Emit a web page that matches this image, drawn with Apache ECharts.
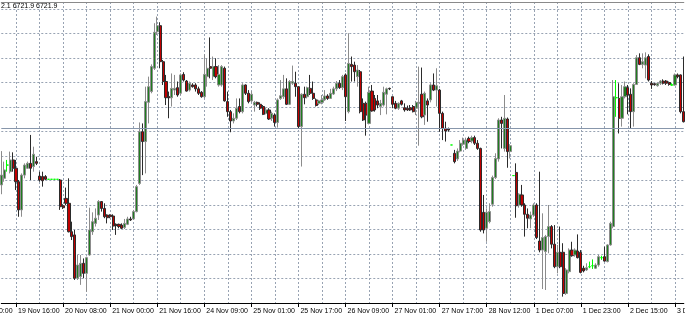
<!DOCTYPE html>
<html><head><meta charset="utf-8">
<script src="https://cdn.jsdelivr.net/npm/echarts@6/dist/echarts.min.js"></script>
<style>html,body{margin:0;padding:0;background:#fff}#c{width:685px;height:320px}</style>
</head><body><div id="c"></div>
<script>
const tickLabels = ["19 Nov 16:00","20 Nov 08:00","21 Nov 00:00","21 Nov 16:00","24 Nov 09:00","25 Nov 01:00","25 Nov 17:00","26 Nov 09:00","27 Nov 01:00","27 Nov 17:00","28 Nov 12:00","1 Dec 07:00","1 Dec 23:00","2 Dec 15:00","3 Dec 07:00"];
const prevLabel = "19 Nov 00:00";
const headerText = "2.1 6721.9 6721.9";
const firstLabelBar = 5, labelEvery = 16, gridEvery = 8;
const bidLine = 6701.2;

const opens = [6678.2,6680.9,6686.3,6683.6,6688.4,6685.0,6679.5,6668.0,6682.2,6685.0,6687.0,6685.7,6687.7,6681.8,6681.6,6681.6,6680.5,6680.5,6680.5,6680.5,
6680.2,6669.7,6672.7,6670.7,6659.1,6657.8,6640.1,6640.8,6646.2,6642.1,6649.6,6659.1,6662.5,6665.9,6671.4,6668.6,6665.9,6665.9,6665.5,6662.1,
6662.1,6661.8,6660.8,6662.1,6664.3,6664.3,6667.3,6678.8,6699.9,6695.9,6711.9,6716.3,6725.8,6740.7,6743.2,6728.5,6720.4,6714.2,6713.8,6716.9,
6717.9,6715.6,6723.3,6720.6,6716.9,6719.0,6719.0,6717.4,6716.0,6714.2,6722.4,6726.5,6722.4,6726.5,6719.0,6719.0,6725.8,6712.2,6708.1,6704.3,
6705.4,6710.2,6708.1,6719.0,6715.6,6712.5,6710.8,6711.9,6711.1,6710.2,6707.4,6708.8,6705.4,6706.7,6703.7,6713.5,6714.2,6717.4,6711.1,6719.7,
6719.7,6718.3,6702.0,6715.2,6714.2,6717.6,6715.6,6712.9,6711.5,6711.9,6712.9,6714.5,6713.5,6715.3,6717.4,6719.7,6717.9,6723.1,6708.1,6727.4,
6727.1,6722.4,6724.4,6711.5,6711.5,6703.3,6716.5,6713.5,6712.5,6710.2,6710.8,6715.2,6717.6,6714.2,6711.5,6709.5,6712.5,6709.7,6709.5,6709.7,
6710.2,6709.5,6711.5,6715.2,6706.7,6712.5,6712.9,6719.0,6716.9,6716.9,6707.4,6701.3,6701.0,6694.5,6691.1,6688.8,6692.0,6694.8,6693.1,6697.2,
6696.1,6697.5,6695.2,6693.1,6667.0,6660.5,6663.2,6670.3,6681.2,6688.8,6704.7,6693.1,6705.1,6691.8,6682.0,6683.3,6670.0,6674.1,6670.0,6666.2,
6664.3,6665.9,6670.0,6655.3,6651.6,6651.0,6657.1,6661.2,6654.0,6644.8,6650.7,6650.7,6633.9,6642.8,6651.6,6649.6,6651.2,6650.7,6644.2,6643.5,
6644.8,6645.2,6644.2,6645.5,6648.5,6648.9,6646.9,6653.7,6661.2,6713.8,6713.5,6705.4,6714.2,6717.9,6715.2,6708.1,6719.2,6730.1,6727.4,6727.1,
6730.6,6719.7,6719.5,6718.7,6719.7,6720.6,6720.6,6720.0,6719.0,6719.0,6723.1,6723.1,6708.1];

const closes = [6682.2,6684.3,6686.3,6688.4,6685.0,6679.5,6668.0,6682.2,6686.3,6687.0,6685.0,6690.7,6687.0,6680.2,6679.9,6680.5,6680.5,6680.5,6680.5,6680.5,
6669.3,6668.9,6670.7,6659.1,6657.1,6640.1,6645.5,6646.2,6642.1,6648.5,6659.8,6663.2,6664.6,6671.4,6668.6,6665.2,6664.8,6665.2,6661.4,6661.6,
6661.2,6660.5,6662.5,6664.3,6663.9,6667.3,6677.5,6699.9,6695.9,6712.2,6718.3,6726.5,6740.5,6743.2,6728.5,6720.4,6713.8,6713.8,6717.6,6717.6,
6714.9,6723.1,6721.0,6716.5,6719.7,6718.3,6717.4,6715.6,6714.2,6723.3,6725.8,6725.8,6726.5,6722.4,6723.3,6726.5,6712.5,6708.1,6704.3,6705.4,
6709.5,6708.1,6719.0,6715.6,6712.2,6715.2,6711.9,6711.1,6709.5,6707.0,6708.8,6705.1,6707.4,6703.7,6712.9,6714.6,6717.4,6711.1,6720.4,6720.4,
6718.3,6702.0,6715.2,6713.8,6717.9,6715.6,6713.5,6710.6,6712.5,6712.9,6714.5,6713.5,6715.6,6717.4,6719.7,6717.9,6722.4,6714.2,6727.8,6726.5,
6724.4,6725.1,6708.1,6704.7,6706.7,6716.0,6708.4,6708.8,6710.8,6711.5,6716.0,6717.4,6717.4,6711.1,6709.5,6711.5,6711.1,6708.8,6708.8,6708.8,
6708.1,6711.9,6711.9,6706.0,6715.6,6710.8,6719.0,6716.9,6718.7,6707.4,6701.3,6700.2,6700.6,6694.5,6687.7,6692.0,6695.2,6696.5,6696.5,6695.9,
6697.5,6695.2,6693.1,6659.8,6659.8,6667.0,6667.3,6681.2,6689.0,6704.7,6703.3,6705.4,6691.8,6694.2,6682.0,6669.7,6674.4,6670.0,6666.2,6664.6,
6665.9,6670.0,6656.7,6651.6,6656.7,6657.1,6661.2,6654.0,6644.8,6650.7,6644.8,6633.9,6643.5,6651.6,6649.3,6651.6,6648.5,6642.5,6643.1,6644.4,
6644.8,6645.2,6645.5,6648.9,6648.5,6647.1,6653.7,6662.5,6714.2,6713.8,6705.4,6714.2,6718.3,6714.9,6708.1,6719.2,6730.1,6727.4,6728.5,6730.1,
6721.0,6719.0,6719.1,6719.7,6720.6,6719.7,6719.7,6719.2,6719.0,6723.1,6722.4,6708.1,6704.0];

const lows = [6674.4,6679.5,6683.6,6682.9,6683.6,6676.1,6665.2,6665.2,6680.9,6684.7,6680.2,6683.6,6686.3,6679.5,6677.5,6680.2,6680.5,6680.5,6680.5,6680.5,
6668.0,6668.4,6670.0,6658.8,6655.7,6639.4,6639.4,6637.4,6640.1,6634.6,6649.3,6657.8,6661.2,6663.9,6667.3,6664.6,6662.5,6664.6,6659.8,6657.8,
6660.5,6660.2,6660.2,6661.8,6663.5,6663.9,6667.0,6678.2,6682.2,6682.9,6703.3,6715.6,6725.1,6739.4,6725.8,6719.0,6710.8,6705.4,6710.2,6714.9,
6714.2,6714.9,6720.4,6716.3,6716.3,6717.9,6716.3,6714.9,6713.8,6713.5,6718.3,6721.7,6721.0,6721.7,6718.3,6718.3,6712.2,6706.0,6699.7,6703.3,
6704.7,6707.4,6707.4,6714.9,6711.5,6711.9,6708.1,6710.2,6708.8,6706.7,6707.0,6704.7,6704.3,6702.0,6701.6,6712.9,6713.3,6710.8,6710.8,6719.0,
6714.2,6701.3,6685.7,6711.1,6713.5,6714.9,6712.9,6710.2,6710.8,6711.1,6712.5,6712.9,6713.3,6714.9,6716.5,6717.4,6716.9,6704.3,6707.4,6720.4,
6720.4,6718.3,6707.4,6704.3,6698.3,6702.9,6708.1,6708.1,6709.5,6706.7,6710.2,6707.0,6716.9,6709.5,6709.1,6708.8,6710.6,6708.1,6708.4,6708.4,
6707.8,6706.7,6694.2,6705.4,6702.7,6704.0,6711.9,6716.5,6710.2,6699.9,6696.5,6695.9,6699.9,6694.5,6687.0,6688.0,6691.5,6694.2,6692.5,6695.2,
6695.2,6694.5,6692.5,6659.1,6658.4,6655.0,6662.5,6669.3,6680.6,6687.7,6693.1,6691.8,6685.2,6689.0,6682.0,6664.8,6668.9,6669.3,6657.1,6660.5,
6660.5,6665.2,6656.1,6650.7,6635.7,6635.3,6650.3,6652.3,6644.2,6642.1,6644.2,6632.6,6633.3,6642.1,6648.9,6648.9,6648.2,6642.1,6642.5,6643.1,
6644.2,6643.9,6643.9,6644.8,6647.6,6646.9,6646.6,6653.4,6660.5,6706.0,6699.2,6702.0,6713.5,6707.0,6701.3,6702.0,6719.0,6727.1,6725.8,6721.7,
6720.4,6717.4,6718.7,6718.3,6719.0,6719.2,6719.0,6718.7,6718.7,6718.7,6721.7,6707.4,6703.7];

const highs = [6692.0,6687.7,6688.4,6691.8,6691.5,6688.4,6680.2,6682.9,6687.0,6687.7,6698.6,6693.8,6689.7,6683.6,6683.6,6682.2,6680.5,6680.5,6680.5,6680.5,
6680.6,6670.3,6677.1,6680.9,6663.2,6659.8,6649.6,6649.6,6648.2,6648.9,6668.9,6667.0,6668.6,6672.0,6671.6,6670.7,6666.2,6666.2,6666.2,6662.5,
6662.4,6662.5,6664.3,6665.2,6665.2,6668.0,6678.2,6703.7,6703.3,6718.3,6722.4,6727.4,6744.2,6746.9,6744.6,6729.2,6723.1,6716.3,6723.7,6723.1,
6720.4,6723.7,6724.2,6721.0,6720.4,6719.7,6719.7,6718.3,6716.5,6731.5,6729.9,6738.4,6730.6,6729.9,6727.1,6727.1,6726.5,6716.3,6708.8,6707.4,
6713.5,6713.5,6719.7,6719.2,6716.9,6716.5,6712.5,6712.2,6711.9,6710.8,6709.7,6709.5,6708.1,6707.4,6713.5,6721.0,6723.1,6721.7,6721.0,6726.9,
6724.4,6718.3,6715.6,6718.3,6718.3,6723.1,6720.4,6713.5,6712.9,6714.9,6716.9,6715.2,6717.4,6718.3,6720.6,6721.0,6723.1,6723.7,6740.1,6730.6,
6728.5,6727.1,6725.1,6713.5,6712.2,6718.3,6719.0,6714.9,6714.9,6712.9,6718.3,6717.9,6717.9,6714.2,6712.5,6711.9,6712.9,6711.5,6710.6,6710.8,
6710.8,6712.5,6726.5,6726.1,6716.3,6713.5,6719.7,6723.7,6725.8,6717.4,6708.1,6704.0,6701.6,6694.5,6692.5,6693.1,6696.5,6697.5,6697.5,6697.9,
6698.3,6698.3,6696.5,6693.4,6674.1,6668.6,6670.7,6682.0,6691.1,6705.4,6706.0,6714.9,6705.7,6694.8,6682.0,6687.0,6674.8,6678.2,6670.7,6668.6,
6667.3,6670.7,6670.7,6683.6,6666.6,6657.8,6670.0,6661.8,6661.8,6653.7,6661.2,6654.4,6644.2,6652.3,6655.0,6652.3,6658.0,6651.6,6645.2,6646.2,
6646.9,6647.8,6646.2,6649.6,6649.3,6653.0,6654.0,6663.2,6721.0,6721.0,6719.7,6719.0,6720.4,6719.0,6717.6,6719.7,6731.2,6731.9,6731.9,6732.3,
6731.5,6720.6,6719.7,6720.0,6721.0,6721.3,6721.0,6720.4,6719.7,6723.7,6723.7,6723.3,6730.6];

const cats = opens.map((_, i) => String(i));
const candles = opens.map((o, i) => [o, closes[i], lows[i], highs[i]]);
const isLabel = i => (i - firstLabelBar) % labelEvery === 0;
const isGrid = i => (i - firstLabelBar) % gridEvery === 0;

const chart = echarts.init(document.getElementById('c'), null, {renderer: 'canvas'});
const gridColor = '#98a3b3';
chart.setOption({
  animation: false,
  grid: {left: 1.29, right: 1.2, top: 2, bottom: 17, outerBoundsMode: 'none', containLabel: false},
  xAxis: [{
    type: 'category', data: cats, boundaryGap: false,
    axisLine: {lineStyle: {color: '#000', width: 1}},
    axisTick: {show: true, length: 4, interval: isLabel, lineStyle: {color: '#000'}},
    axisLabel: {interval: isLabel, formatter: (v, i) => tickLabels[(i - firstLabelBar) / labelEvery] || '',
      align: 'left', padding: [0, 0, 0, 2], margin: 5, fontSize: 7, fontFamily: 'Liberation Sans', color: '#000'},
    splitLine: {show: true, interval: isGrid, lineStyle: {color: gridColor, type: [2, 2], width: 1}}
  }, {
    type: 'category', data: cats, boundaryGap: false, position: 'top',
    axisLine: {lineStyle: {color: '#8a8a8a', width: 1}}, axisTick: {show: false}, axisLabel: {show: false}, splitLine: {show: false}
  }],
  yAxis: {
    type: 'value', min: 6630, max: 6752.86, interval: 10,
    axisLine: {show: false}, axisTick: {show: false}, axisLabel: {show: false},
    splitLine: {lineStyle: {color: gridColor, type: [2, 2], width: 1}}
  },
  series: [{
    type: 'candlestick', data: candles, barWidth: 2.6,
    itemStyle: {color: '#1e7d1e', color0: '#c00000', borderColor: '#8c8c8c', borderColor0: '#2b2b2b', borderColorDoji: '#00ff00', borderWidth: 1},
    markLine: {symbol: 'none', silent: true, label: {show: false}, animation: false,
      lineStyle: {color: '#8796ab', type: 'solid', width: 1}, data: [{yAxis: bidLine}]}
  }],
  graphic: [
    {type: 'text', left: 1, top: 3, style: {text: headerText, fontSize: 7, fontFamily: 'Liberation Sans', fill: '#000'}},
    {type: 'text', x: 1.29 - 11 * 2.942 + 2, y: 308, style: {text: prevLabel, fontSize: 7, fontFamily: 'Liberation Sans', fill: '#000'}}
  ]
});
</script></body></html>
